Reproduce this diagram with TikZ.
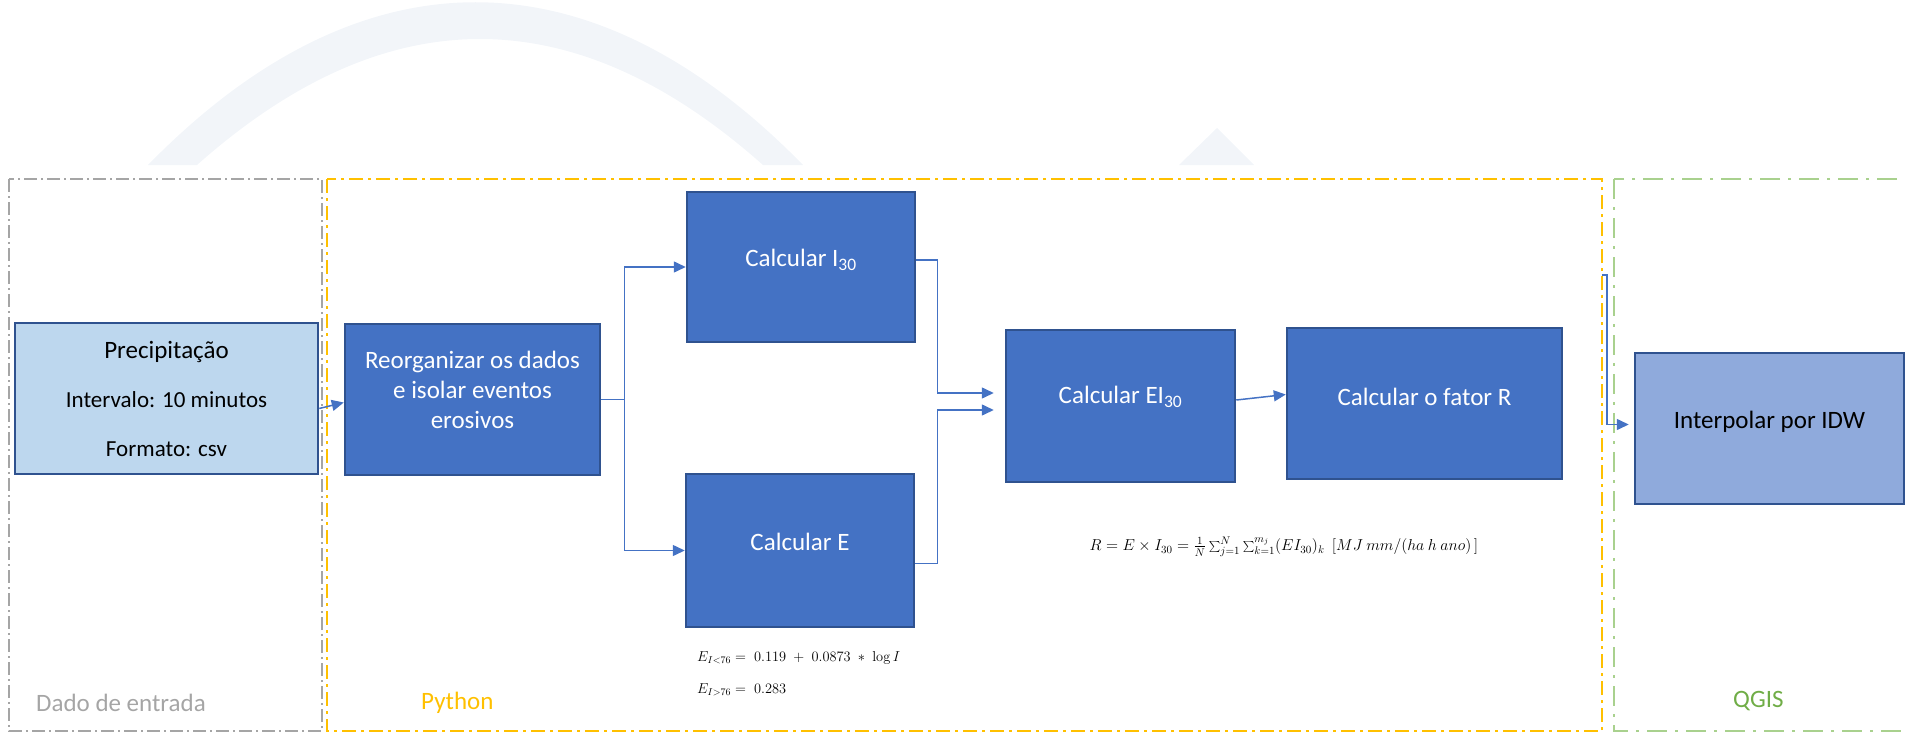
\documentclass[tikz,border=0pt]{standalone}
\usepackage{graphicx}
\usepackage[no-math]{fontspec}
\setmainfont{Carlito}
\usetikzlibrary{arrows.meta}
\definecolor{archc}{RGB}{242,245,249}
\definecolor{boxblue}{RGB}{68,114,196}
\definecolor{boxedge}{RGB}{47,82,143}
\definecolor{lightbox}{RGB}{189,215,238}
\definecolor{idwbox}{RGB}{143,170,220}
\definecolor{connc}{RGB}{68,114,196}
\definecolor{greyline}{RGB}{165,165,165}
\definecolor{yellowline}{RGB}{255,192,0}
\definecolor{greenline}{RGB}{169,209,142}
\definecolor{greentext}{RGB}{112,173,71}
\begin{document}
\begin{tikzpicture}[x=1pt,y=-1pt,
  darkbox/.style={draw=boxedge, line width=2.5pt, fill=boxblue, inner sep=0pt},
  lightbx/.style={draw=boxedge, line width=2.5pt, fill=lightbox, inner sep=0pt},
  idwbx/.style={draw=boxedge, line width=2.5pt, fill=idwbox, inner sep=0pt},
  wtext/.style={text=white, align=center, font=\fontsize{25}{30}\selectfont, inner sep=0pt},
  btext/.style={text=black, align=center, font=\fontsize{25}{30}\selectfont, inner sep=0pt},
  conn/.style={draw=connc, line width=1.5pt, -{Triangle[length=12pt,width=11pt]}},
  greyframe/.style={draw=greyline, line width=2pt, dash pattern=on 13pt off 4pt on 2pt off 4pt},
  yellowframe/.style={draw=yellowline, line width=2.5pt, dash pattern=on 14pt off 5pt on 3pt off 5pt},
  greenframe/.style={draw=greenline, line width=2pt, dash pattern=on 20pt off 8pt on 3pt off 8pt},
  regionlabel/.style={anchor=west, inner sep=0pt, font=\fontsize{25}{30}\selectfont},
  formula/.style={inner sep=0pt, text=black}
]
\useasboundingbox (0,0) rectangle (1905,733);
\clip (0,0) rectangle (1905,733);

% background watermark
\fill[archc] (148,165) .. controls (360,-52) and (591,-52) .. (803,165)
  -- (763,165) .. controls (574,-3) and (386,-3) .. (197,165) -- cycle;
\fill[archc] (1179,165) -- (1217,128) -- (1254,165) -- cycle;

% region frames
\draw[greyframe] (9,179) rectangle (322,731);
\draw[yellowframe] (327,179) rectangle (1602,731);
\draw[greenframe] (1614,179) rectangle (1925,731);

\node[regionlabel, text=greyline] (labin) at (36,703) {Dado de entrada};
\node[regionlabel, text=yellowline] (labpy) at (421,703) {Python};
\node[regionlabel, text=greentext] (labqg) at (1733,701) {QGIS};

% boxes
\node[lightbx, minimum width=303pt, minimum height=151pt] (pre) at (166.5,398.5) {};
\node[btext, font=\fontsize{23}{49}\selectfont] (pret) at (pre.center)
  {{\fontsize{25}{49}\selectfont Precipitação}\\Intervalo: 10 minutos\\Formato: csv};

\node[darkbox, minimum width=255pt, minimum height=151pt] (reorg) at (472.5,399.5) {};
\node[wtext] (reorgt) at ([yshift=10pt]reorg.center)
  {Reorganizar os dados\\e isolar eventos\\erosivos};

\node[darkbox, minimum width=228pt, minimum height=150pt] (i30) at (801,267) {};
\node[wtext] (i30t) at ([yshift=7pt]i30.center) {Calcular I\textsubscript{30}};

\node[darkbox, minimum width=228pt, minimum height=153pt] (e) at (800,550.5) {};
\node[wtext] (et) at ([yshift=9pt]e.center) {Calcular E};

\node[darkbox, minimum width=229pt, minimum height=152pt] (ei30) at (1120.5,406) {};
\node[wtext] (ei30t) at ([yshift=9pt]ei30.center) {Calcular EI\textsubscript{30}};

\node[darkbox, minimum width=275pt, minimum height=151pt] (r) at (1424.5,403.5) {};
\node[wtext] (rt) at ([yshift=7pt]r.center) {Calcular o fator R};

\node[idwbx, minimum width=269pt, minimum height=151pt] (idw) at (1769.5,428.5) {};
\node[btext] (idwt) at ([yshift=7pt]idw.center) {Interpolar por IDW};

% formulas
\node[formula, anchor=west, font=\fontsize{14.4}{17}\selectfont] (feq1) at (697,658)
  {$E_{I<76} =\; 0.119 \;+\; 0.0873 \;*\; \log I$};
\node[formula, anchor=west, font=\fontsize{14.4}{17}\selectfont] (feq2) at (697,690)
  {$E_{I>76} =\; 0.283$};
\node[formula, font=\fontsize{14.4}{17}\selectfont] (req) at (1284,547)
  {\scalebox{1.1}{$R = E \times I_{30} = \frac{1}{N}\sum_{j=1}^{N}\sum_{k=1}^{m_j}(EI_{30})_k\ \ [MJ\ mm/(ha\ h\ ano)\,]$}};

% connectors
\draw[conn] ([yshift=-10pt]pre.east) -- ([yshift=-3pt]reorg.west);
\draw[conn] (reorg.east) -- ++(23,0) |- (i30.west);
\draw[conn] (reorg.east) -- ++(23,0) |- (e.west);
\draw[conn] ([yshift=7pt]i30.east) -- ++(21,0) |- ([xshift=-11pt,yshift=13pt]ei30.west);
\draw[conn] ([yshift=-13pt]e.east) -- ++(22,0) |- ([xshift=-11pt,yshift=-4pt]ei30.west);
\draw[conn] ([yshift=6pt]ei30.east) -- ([yshift=9pt]r.west);
\coordinate (rout) at (1602,275);
\draw[conn] (rout) -- ++(5,0) |- ([xshift=-5pt,yshift=4pt]idw.west);
\end{tikzpicture}
\end{document}
